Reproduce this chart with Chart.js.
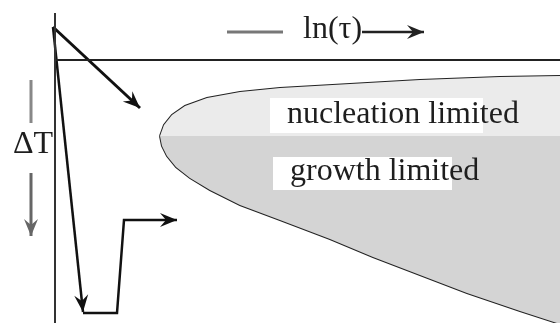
<!DOCTYPE html>
<html>
<head>
<meta charset="utf-8">
<script src="https://cdn.jsdelivr.net/npm/chart.js@4"></script>
<style>
  body { margin: 0; background: #fff; }
</style>
</head>
<body>
<canvas id="ttt" width="560" height="323"></canvas>
<script>
// schematic TTT diagram, x = ln(tau), y = undercooling (down is larger)
const upperBranch = [
  { x: 560, y: 76 }, { x: 500, y: 77 }, { x: 420, y: 80 }, { x: 350, y: 84 },
  { x: 280, y: 88 }, { x: 240, y: 92 }, { x: 207, y: 98 }, { x: 185, y: 106 },
  { x: 172, y: 115 }, { x: 164, y: 125 }, { x: 160, y: 136 }
];
const lowerBranch = [
  { x: 160, y: 136 }, { x: 162, y: 146 }, { x: 167, y: 156 }, { x: 176, y: 167 },
  { x: 190, y: 178 }, { x: 210, y: 190 }, { x: 240, y: 205 }, { x: 280, y: 220 },
  { x: 330, y: 239 }, { x: 373, y: 257 }, { x: 420, y: 275 }, { x: 467, y: 293 },
  { x: 520, y: 311 }, { x: 560, y: 324 }
];
const dividerY = 136;

const quenchSlow = [{ x: 53, y: 27 }, { x: 140, y: 108 }];
const quenchDown = [{ x: 53, y: 27 }, { x: 83, y: 312 }];
const quenchHold = [{ x: 83, y: 313 }, { x: 117, y: 313 }, { x: 124, y: 220 }, { x: 177, y: 220 }];
const yAxisLine = [{ x: 55, y: 13 }, { x: 55, y: 323 }];
const meltLine = [{ x: 55, y: 60 }, { x: 560, y: 60 }];
const tauDash = [{ x: 227, y: 32 }, { x: 283, y: 32 }];
const tauArrow = [{ x: 362, y: 32 }, { x: 424, y: 32 }];
const dTBar = [{ x: 31, y: 80 }, { x: 31, y: 123 }];
const dTArrow = [{ x: 31, y: 173 }, { x: 31, y: 236 }];

const textItems = [
  { text: 'nucleation limited', x: 287, y: 123, box: [270, 98, 483, 133] },
  { text: 'growth limited', x: 290, y: 180, box: [273, 157, 452, 190] },
  { text: 'ln(\u03c4)', x: 303, y: 38 },
  { text: '\u0394T', x: 13, y: 153 }
];

const lightRegion = upperBranch.concat([{ x: 560, y: dividerY }, upperBranch[0]]);
const darkRegion = [{ x: 560, y: dividerY }].concat(lowerBranch, [{ x: 560, y: dividerY }]);

function seg(data, color, width, arrow) {
  return {
    data: data, borderColor: color, borderWidth: width, pointRadius: 0,
    fill: false, tension: 0, arrow: arrow || false
  };
}

const arrowHeads = {
  id: 'arrowHeads',
  afterDatasetsDraw(chart) {
    const ctx = chart.ctx;
    chart.data.datasets.forEach((ds, i) => {
      if (!ds.arrow) return;
      const pts = chart.getDatasetMeta(i).data;
      const a = pts[pts.length - 2], b = pts[pts.length - 1];
      const ang = Math.atan2(b.y - a.y, b.x - a.x);
      ctx.save();
      ctx.translate(b.x, b.y);
      ctx.rotate(ang);
      ctx.fillStyle = ds.borderColor;
      ctx.beginPath();
      ctx.moveTo(0, 0);
      ctx.lineTo(-17, -7);
      ctx.lineTo(-11, 0);
      ctx.lineTo(-17, 7);
      ctx.closePath();
      ctx.fill();
      ctx.restore();
    });
  }
};

const textLabels = {
  id: 'textLabels',
  afterDatasetsDraw(chart) {
    const ctx = chart.ctx;
    const sx = chart.scales.x, sy = chart.scales.y;
    ctx.save();
    textItems.forEach(l => {
      if (l.box) {
        const x0 = sx.getPixelForValue(l.box[0]), y0 = sy.getPixelForValue(l.box[1]);
        const x1 = sx.getPixelForValue(l.box[2]), y1 = sy.getPixelForValue(l.box[3]);
        ctx.fillStyle = '#ffffff';
        ctx.fillRect(x0, y0, x1 - x0, y1 - y0);
      }
    });
    ctx.fillStyle = '#1e1e1e';
    ctx.font = '32px "Liberation Serif", "Times New Roman", serif';
    textItems.forEach(l => {
      ctx.fillText(l.text, sx.getPixelForValue(l.x), sy.getPixelForValue(l.y));
    });
    ctx.restore();
  }
};

new Chart(document.getElementById('ttt'), {
  type: 'line',
  data: {
    datasets: [
      { data: lightRegion, borderWidth: 0, pointRadius: 0, backgroundColor: '#ebebeb', fill: 'shape' },
      { data: darkRegion, borderWidth: 0, pointRadius: 0, backgroundColor: '#d4d4d4', fill: 'shape' },
      seg(upperBranch, '#222', 2),
      seg(lowerBranch, '#222', 2),
      seg(yAxisLine, '#333', 2),
      seg(meltLine, '#222', 2),
      seg(quenchSlow, '#111', 3, true),
      seg(quenchDown, '#111', 2.5, true),
      seg(quenchHold, '#111', 2.5, true),
      seg(tauDash, '#777', 3),
      seg(tauArrow, '#222', 2.5, true),
      seg(dTBar, '#888', 3),
      seg(dTArrow, '#666', 3, true)
    ]
  },
  options: {
    responsive: false,
    animation: false,
    layout: { padding: 0 },
    plugins: { legend: { display: false }, tooltip: { enabled: false } },
    scales: {
      x: { type: 'linear', min: 0, max: 560, display: false },
      y: { type: 'linear', min: 0, max: 323, reverse: true, display: false }
    }
  },
  plugins: [arrowHeads, textLabels]
});
</script>
</body>
</html>
